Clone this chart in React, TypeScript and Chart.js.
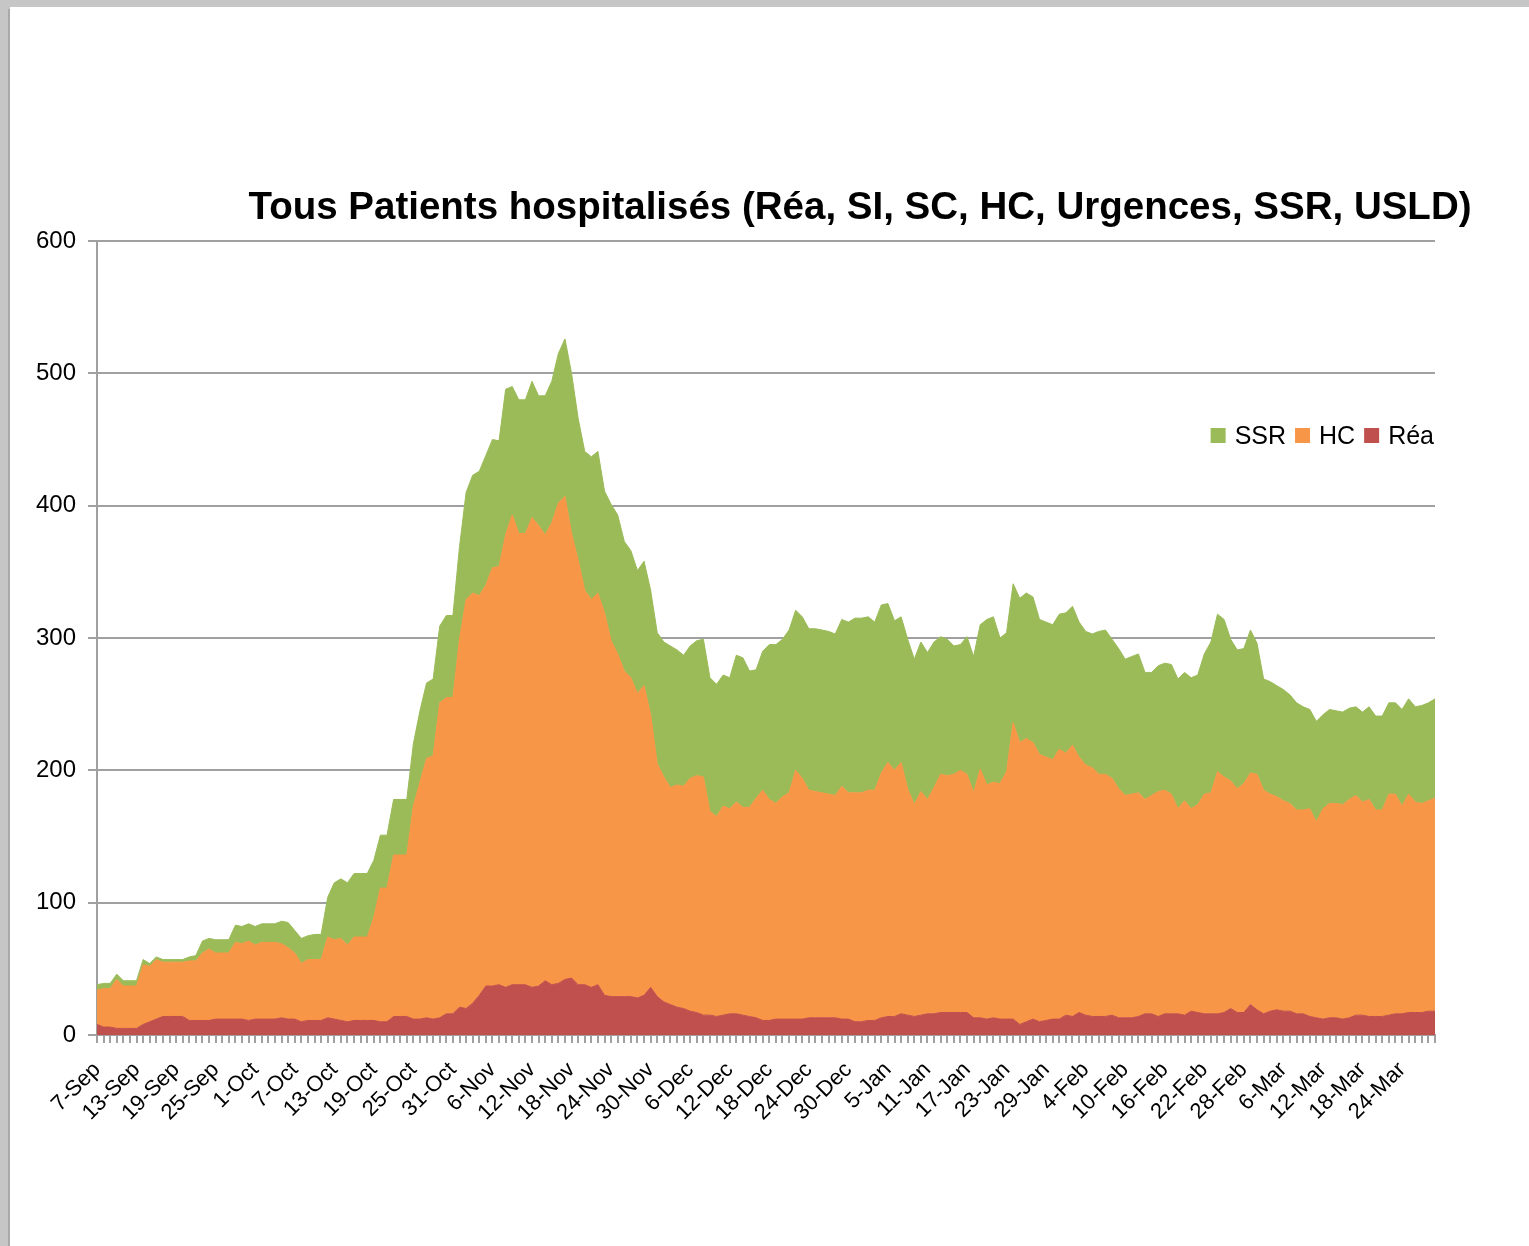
import React, { useEffect, useRef } from "react";
import { Chart, registerables } from "chart.js";

Chart.register(...registerables);

const TITLE = "Tous Patients hospitalisés (Réa, SI, SC, HC, Urgences, SSR, USLD)";
const MONTHS = ["Jan", "Feb", "Mar", "Apr", "May", "Jun", "Jul", "Aug", "Sep", "Oct", "Nov", "Dec"];
const START_YEAR = 2020;
const START_MONTH = 8; // September (0-based)
const START_DAY = 7;
const LABEL_EVERY = 6;
const Y_TICKS = [0, 100, 200, 300, 400, 500, 600];

// Réa (bottom layer), daily from 7-Sep
const rea = [
  8, 6, 6, 5, 5, 5, 5, 8, 10, 12,
  14, 14, 14, 14, 11, 11, 11, 11, 12, 12,
  12, 12, 12, 11, 12, 12, 12, 12, 13, 12,
  12, 10, 11, 11, 11, 13, 12, 11, 10, 11,
  11, 11, 11, 10, 10, 14, 14, 14, 12, 12,
  13, 12, 13, 16, 16, 21, 20, 24, 30, 37,
  37, 38, 36, 38, 38, 38, 36, 37, 41, 38,
  39, 42, 43, 38, 38, 36, 38, 30, 29, 29,
  29, 29, 28, 30, 36, 29, 25, 23, 21, 20,
  18, 17, 15, 15, 14, 15, 16, 16, 15, 14,
  13, 11, 11, 12, 12, 12, 12, 12, 13, 13,
  13, 13, 13, 12, 12, 10, 10, 11, 11, 13,
  14, 14, 16, 15, 14, 15, 16, 16, 17, 17,
  17, 17, 17, 13, 13, 12, 13, 12, 12, 12,
  8, 10, 12, 10, 11, 12, 12, 15, 14, 17,
  15, 14, 14, 14, 15, 13, 13, 13, 14, 16,
  16, 14, 16, 16, 16, 15, 18, 17, 16, 16,
  16, 17, 20, 17, 17, 23, 19, 16, 18, 19,
  18, 18, 16, 16, 14, 13, 12, 13, 13, 12,
  13, 15, 15, 14, 14, 14, 15, 16, 16, 17,
  17, 17, 18, 18,
];

// HC (middle layer)
const hc = [
  26, 29, 29, 37, 32, 32, 32, 45, 42, 45,
  41, 41, 41, 41, 45, 45, 51, 54, 50, 50,
  50, 58, 57, 60, 56, 58, 58, 58, 56, 54,
  50, 44, 46, 46, 46, 61, 60, 62, 58, 63,
  63, 63, 78, 101, 101, 122, 122, 122, 161, 179,
  196, 199, 238, 239, 239, 278, 309, 310, 302, 303,
  316, 316, 342, 355, 341, 341, 355, 348, 337, 349,
  363, 365, 336, 321, 298, 293, 296, 289, 269, 259,
  246, 241, 230, 234, 206, 176, 170, 164, 168, 168,
  176, 179, 180, 154, 151, 158, 155, 160, 157, 158,
  166, 174, 167, 163, 168, 171, 188, 182, 172, 171,
  170, 169, 168, 176, 171, 173, 173, 174, 174, 185,
  192, 186, 190, 171, 160, 169, 162, 171, 180, 179,
  180, 183, 180, 170, 188, 177, 178, 178, 187, 224,
  213, 214, 209, 202, 199, 196, 204, 198, 205, 193,
  189, 188, 183, 183, 179, 173, 168, 169, 169, 162,
  165, 170, 169, 166, 155, 162, 153, 157, 166, 167,
  183, 178, 172, 169, 173, 175, 178, 169, 164, 161,
  159, 157, 154, 154, 157, 148, 159, 162, 162, 162,
  165, 166, 161, 164, 156, 156, 167, 166, 157, 165,
  159, 158, 159, 161,
];

// SSR (top layer)
const ssr = [
  4, 4, 4, 4, 4, 4, 4, 4, 2, 2,
  2, 2, 2, 2, 3, 4, 9, 8, 10, 10,
  10, 13, 13, 13, 14, 14, 14, 14, 17, 19,
  17, 19, 18, 19, 19, 30, 43, 45, 47, 48,
  48, 48, 43, 40, 40, 42, 42, 42, 47, 54,
  57, 58, 58, 62, 62, 70, 81, 89, 94, 98,
  97, 95, 110, 97, 101, 101, 103, 98, 105, 107,
  113, 119, 121, 107, 105, 108, 107, 92, 103, 105,
  98, 96, 93, 94, 94, 99, 102, 107, 102, 99,
  100, 102, 104, 101, 100, 99, 99, 111, 113, 103,
  97, 105, 117, 120, 119, 123, 121, 122, 122, 123,
  123, 123, 122, 126, 129, 132, 132, 131, 127, 127,
  120, 113, 110, 113, 110, 113, 111, 110, 104, 103,
  97, 95, 104, 103, 109, 125, 125, 110, 105, 105,
  109, 110, 110, 102, 102, 102, 102, 106, 105, 102,
  101, 101, 108, 109, 105, 106, 103, 104, 105, 96,
  93, 95, 96, 98, 98, 97, 99, 98, 106, 114,
  119, 119, 107, 105, 102, 108, 99, 84, 85, 84,
  84, 82, 81, 78, 75, 76, 71, 71, 70, 70,
  69, 67, 68, 70, 71, 71, 69, 69, 73, 72,
  72, 74, 74, 75,
];

const labels = rea.map((_, i) => {
  const d = new Date(START_YEAR, START_MONTH, START_DAY + i);
  return `${d.getDate()}-${MONTHS[d.getMonth()]}`;
});

const COLORS = { ssr: "#9BBB59", hc: "#F79646", rea: "#C0504D" };
const LEGEND = [
  { label: "SSR", color: COLORS.ssr },
  { label: "HC", color: COLORS.hc },
  { label: "Réa", color: COLORS.rea },
];

const FONT = '"Liberation Sans", Arial, sans-serif';
const GRID = "#a0a0a0";

const W = 1529;
const H = 1246;
const AREA = { left: 97, right: 1435, top: 241, bottom: 1035 };

const overlayPlugin = {
  id: "overlay",
  afterDraw(chart: any) {
    const ctx = chart.ctx;
    ctx.save();
    // title
    ctx.font = `bold 38.5px ${FONT}`;
    ctx.fillStyle = "#000";
    ctx.textAlign = "center";
    ctx.textBaseline = "alphabetic";
    ctx.fillText(TITLE, 860, 219);
    // legend (right-aligned so it ends at x=1434)
    ctx.font = `25px ${FONT}`;
    ctx.textAlign = "left";
    const box = 15;
    const gap = 9;
    let total = 0;
    const widths = LEGEND.map((l) => ctx.measureText(l.label).width);
    widths.forEach((w, i) => {
      total += box + gap + w + (i < LEGEND.length - 1 ? gap : 0);
    });
    let x = 1434 - total;
    const baseline = 444;
    LEGEND.forEach((l, i) => {
      ctx.fillStyle = l.color;
      ctx.fillRect(x, 428, box, box);
      x += box + gap;
      ctx.fillStyle = "#000";
      ctx.fillText(l.label, x, baseline);
      x += widths[i] + gap;
    });
    ctx.restore();
  },
};

export default function App() {
  const ref = useRef<HTMLCanvasElement | null>(null);

  useEffect(() => {
    if (!ref.current) return;
    const chart = new Chart(ref.current, {
      type: "line",
      data: {
        labels,
        datasets: [
          {
            label: "Réa",
            data: rea,
            backgroundColor: COLORS.rea,
            borderColor: COLORS.rea,
            borderWidth: 1,
            pointRadius: 0,
            fill: "origin",
            tension: 0,
          },
          {
            label: "HC",
            data: hc,
            backgroundColor: COLORS.hc,
            borderColor: COLORS.hc,
            borderWidth: 1,
            pointRadius: 0,
            fill: "-1",
            tension: 0,
          },
          {
            label: "SSR",
            data: ssr,
            backgroundColor: COLORS.ssr,
            borderColor: COLORS.ssr,
            borderWidth: 1,
            pointRadius: 0,
            fill: "-1",
            tension: 0,
          },
        ],
      },
      options: {
        responsive: false,
        animation: false,
        devicePixelRatio: 1,
        layout: {
          padding: { left: 0, top: AREA.top, right: W - AREA.right, bottom: 0 },
        },
        plugins: {
          legend: { display: false },
          title: { display: false },
          tooltip: { enabled: false },
        },
        scales: {
          x: {
            type: "category",
            offset: false,
            grid: {
              drawOnChartArea: false,
              drawTicks: true,
              tickLength: 8,
              color: GRID,
              lineWidth: 2,
            },
            border: { color: GRID, width: 2 },
            ticks: {
              autoSkip: false,
              maxRotation: 45,
              minRotation: 45,
              padding: 14,
              color: "#000",
              font: { size: 22, family: FONT },
              callback: (_v: any, i: number) => (i % LABEL_EVERY === 0 ? labels[i] : ""),
            },
            afterFit: (s: any) => {
              s.height = H - AREA.bottom;
              s.paddingLeft = 0;
              s.paddingRight = 0;
            },
          },
          y: {
            stacked: true,
            min: Y_TICKS[0],
            max: Y_TICKS[Y_TICKS.length - 1],
            ticks: {
              stepSize: 100,
              padding: 12,
              color: "#000",
              font: { size: 24, family: FONT },
            },
            grid: { color: GRID, lineWidth: 2, tickLength: 9, drawTicks: true },
            border: { color: GRID, width: 2 },
            afterFit: (s: any) => {
              s.width = AREA.left;
              s.paddingTop = 0;
              s.paddingBottom = 0;
            },
          },
        },
      },
      plugins: [overlayPlugin],
    });
    return () => chart.destroy();
  }, []);

  return (
    <div
      style={{
        position: "absolute",
        left: 0,
        top: 0,
        width: W,
        height: H,
        background: "#c6c6c6",
        overflow: "hidden",
      }}
    >
      <div style={{ position: "absolute", left: 8, top: 9, width: 2, height: H, background: "#a9a9a9" }} />
      <div style={{ position: "absolute", left: 10, top: 7, right: 0, bottom: 0, background: "#ffffff" }} />
      <canvas
        ref={ref}
        width={W}
        height={H}
        style={{ position: "absolute", left: 0, top: 0, width: W, height: H }}
      />
    </div>
  );
}
